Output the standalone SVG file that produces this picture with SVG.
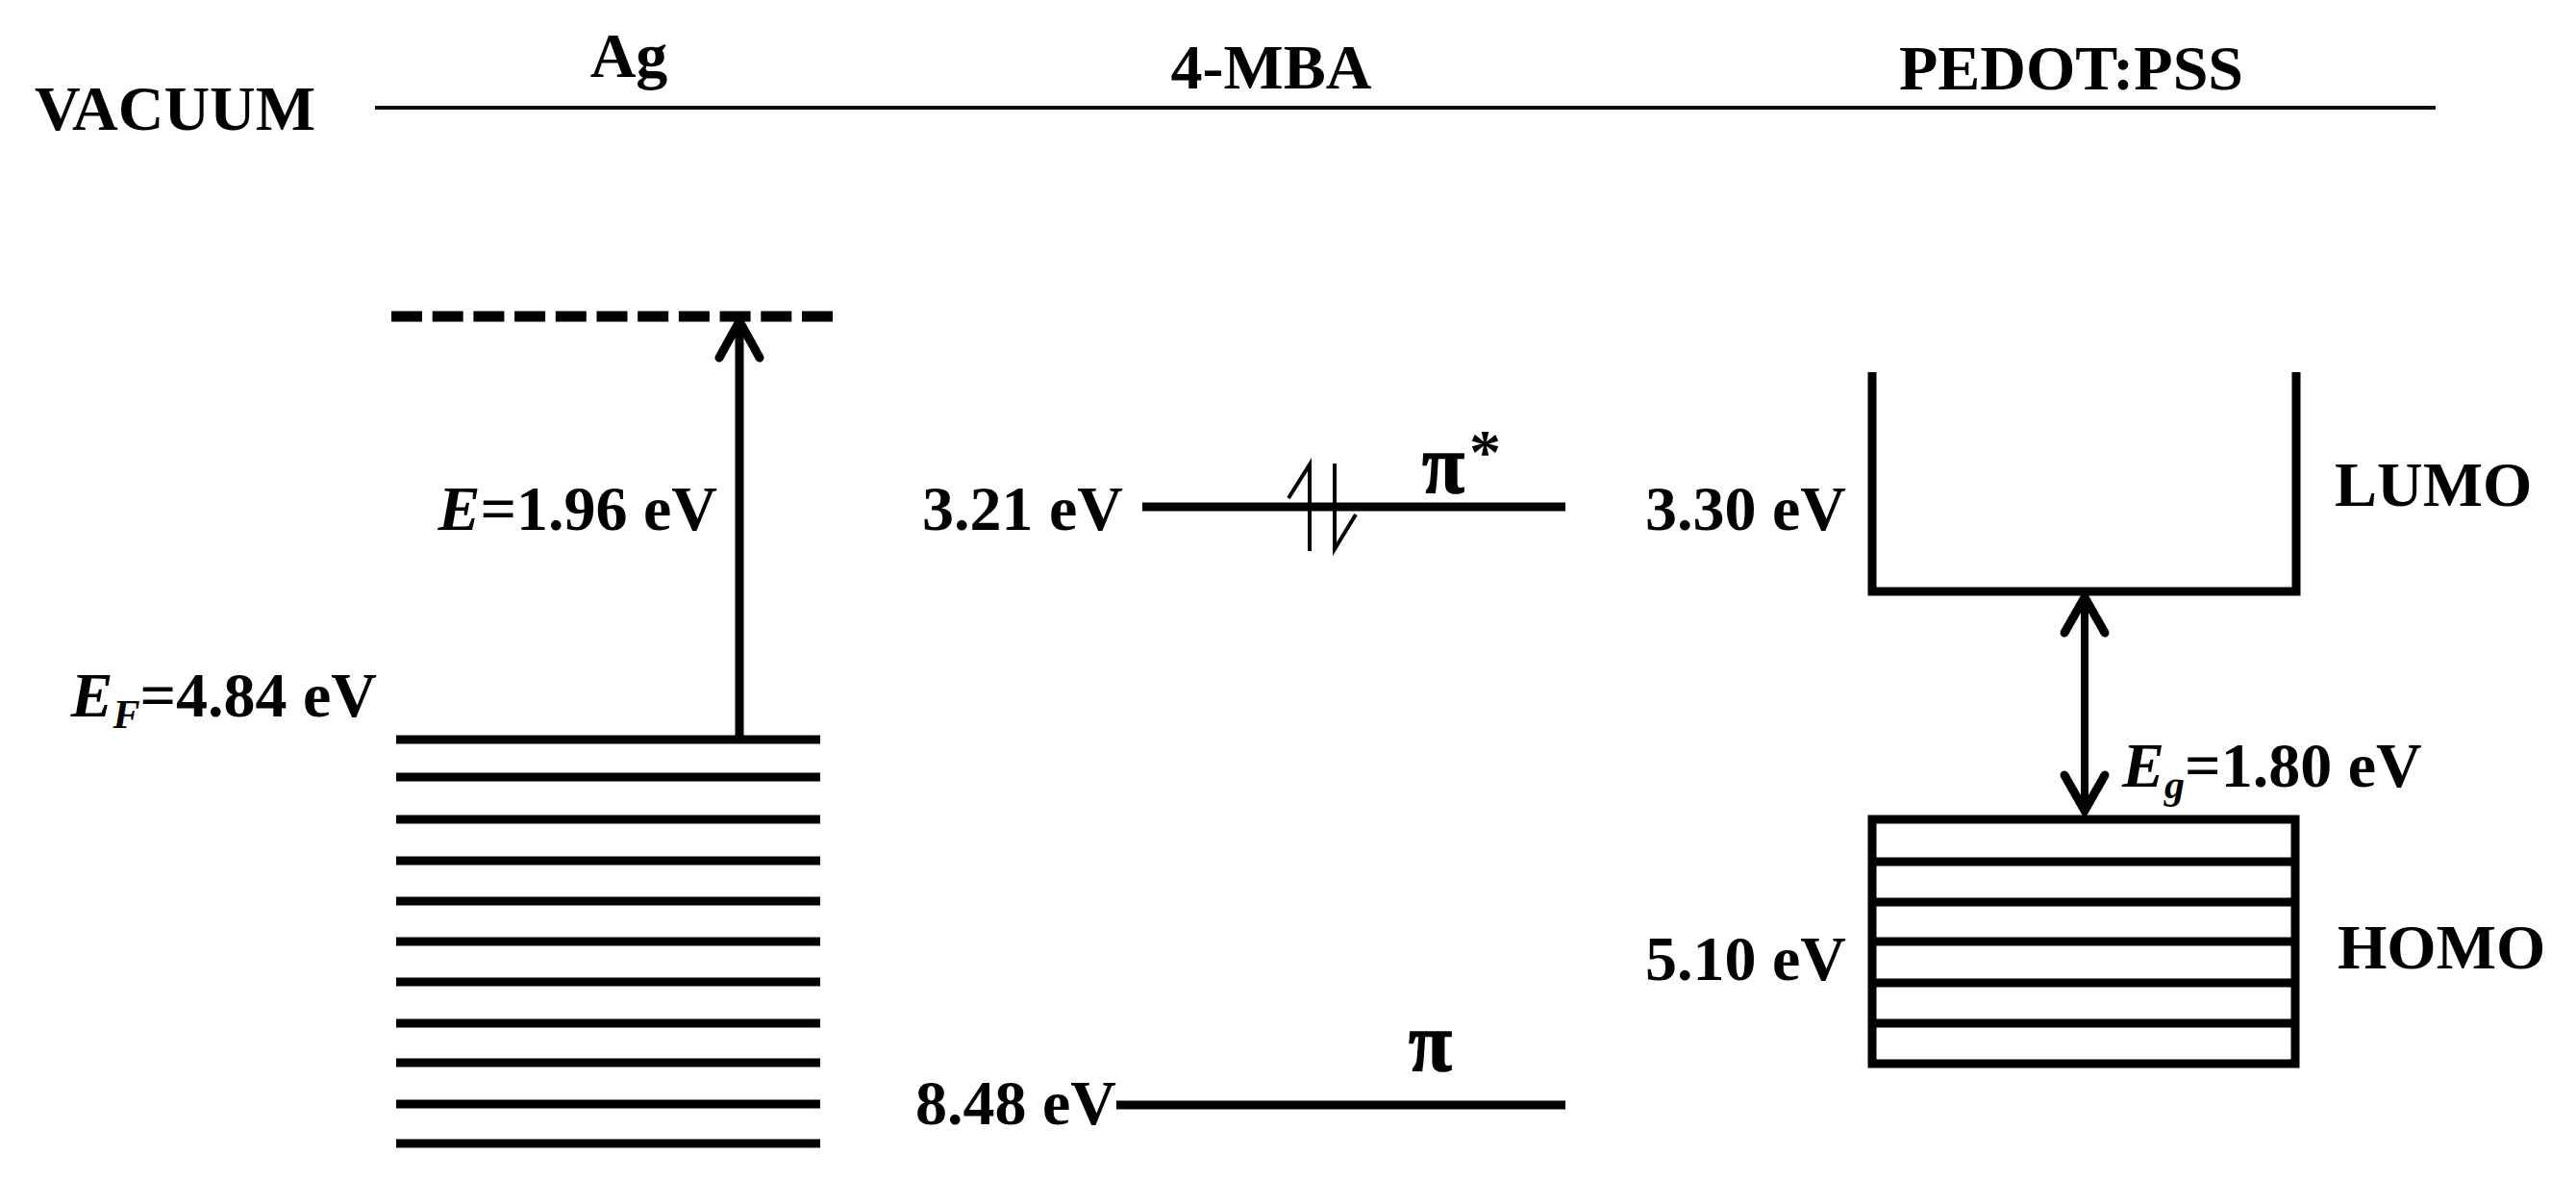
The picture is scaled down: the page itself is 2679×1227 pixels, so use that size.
<svg xmlns="http://www.w3.org/2000/svg" width="2679" height="1227" viewBox="0 0 2679 1227">
<style>
.t { font-family: "Liberation Serif", "Times New Roman", serif; font-weight: bold; font-size: 66px; fill: #000; }
.i { font-style: italic; }
.pi { font-size: 86px; stroke: #000; stroke-width: 1.5; }
.lv { stroke: #000; stroke-width: 9; fill: none; }
.ar { stroke: #000; stroke-width: 9; fill: none; stroke-linecap: round; stroke-linejoin: miter; }
.spin { stroke: #000; stroke-width: 4; fill: none; }
</style>
<rect x="0" y="0" width="2679" height="1227" fill="#fff"/>

<g id="vacuum">
  <text class="t" x="182" y="135" text-anchor="middle">VACUUM</text>
  <line x1="390" y1="112" x2="2533" y2="112" stroke="#111" stroke-width="4"/>
</g>

<g id="ag">
  <text class="t" x="654" y="80" text-anchor="middle">Ag</text>
  <line x1="407" y1="329" x2="866" y2="329" stroke="#000" stroke-width="11" stroke-dasharray="32 10.7"/>
  <g class="lv">
    <line x1="412" y1="769" x2="853" y2="769"/>
    <line x1="412" y1="808" x2="853" y2="808"/>
    <line x1="412" y1="852" x2="853" y2="852"/>
    <line x1="412" y1="895" x2="853" y2="895"/>
    <line x1="412" y1="937" x2="853" y2="937"/>
    <line x1="412" y1="979" x2="853" y2="979"/>
    <line x1="412" y1="1021" x2="853" y2="1021"/>
    <line x1="412" y1="1064" x2="853" y2="1064"/>
    <line x1="412" y1="1105" x2="853" y2="1105"/>
    <line x1="412" y1="1148" x2="853" y2="1148"/>
    <line x1="412" y1="1189" x2="853" y2="1189"/>
  </g>
  <text class="t" x="746" y="551" text-anchor="end"><tspan class="i">E</tspan>=1.96 eV</text>
  <text class="t" x="392" y="745" text-anchor="end"><tspan class="i">E</tspan><tspan class="i" font-size="42" dy="12">F</tspan><tspan dy="-12">=4.84 eV</tspan></text>
</g>

<g id="mba">
  <text class="t" x="1322" y="92" text-anchor="middle">4-MBA</text>
  <line class="lv" x1="1188" y1="527" x2="1628" y2="527"/>
  <line class="lv" x1="1161" y1="1149" x2="1628" y2="1149"/>
  <polyline class="spin" points="1340,518 1362,483 1362,573"/>
  <polyline class="spin" points="1388,482 1388,571 1410,535"/>
  <text class="t" x="1168" y="551" text-anchor="end">3.21 eV</text>
  <text class="t" x="1161" y="1169" text-anchor="end">8.48 eV</text>
  <text class="t pi" x="1479" y="512" textLength="44" lengthAdjust="spacingAndGlyphs">π</text>
  <text class="t" x="1528" y="492" font-size="44">*</text>
  <text class="t pi" x="1465" y="1113" textLength="45" lengthAdjust="spacingAndGlyphs">π</text>
</g>

<g id="pedot">
  <text class="t" x="2154" y="93" text-anchor="middle">PEDOT:PSS</text>
  <path class="lv" d="M1947,387 V615 H2388 V387" stroke-linejoin="miter"/>
  <rect class="lv" x="1947" y="852" width="440" height="254"/>
  <g class="lv">
    <line x1="1947" y1="896" x2="2387" y2="896"/>
    <line x1="1947" y1="938" x2="2387" y2="938"/>
    <line x1="1947" y1="979" x2="2387" y2="979"/>
    <line x1="1947" y1="1022" x2="2387" y2="1022"/>
    <line x1="1947" y1="1064" x2="2387" y2="1064"/>
  </g>
  <text class="t" x="1920" y="551" text-anchor="end">3.30 eV</text>
  <text class="t" x="1920" y="1019" text-anchor="end">5.10 eV</text>
  <text class="t" x="2428" y="526">LUMO</text>
  <text class="t" x="2431" y="1007">HOMO</text>
  <text class="t" x="2207" y="818"><tspan class="i">E</tspan><tspan class="i" font-size="42" dy="12">g</tspan><tspan dy="-12">=1.80 eV</tspan></text>
</g>

<g id="connectors">
  <line x1="769" y1="765" x2="769" y2="338" stroke="#000" stroke-width="9"/>
  <polyline class="ar" points="748,372 769,334 790,372"/>
  <line x1="2168" y1="624" x2="2168" y2="842" stroke="#000" stroke-width="8"/>
  <polyline class="ar" points="2147,658 2168,621 2189,658"/>
  <polyline class="ar" points="2147,806 2168,843 2189,806"/>
</g>
</svg>
